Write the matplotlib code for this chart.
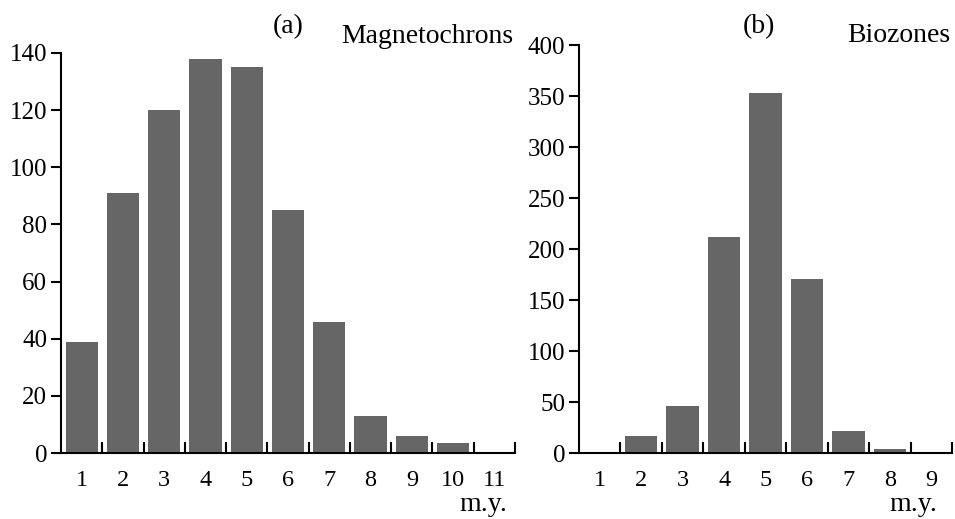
import numpy as np
import matplotlib
matplotlib.use("Agg")
import matplotlib.pyplot as plt

plt.rcParams['font.family'] = ['Liberation Serif', 'DejaVu Serif']
plt.rcParams['font.size'] = 18

# ---- Data: number of intervals per duration class (m.y.) ----
magneto_bins = [1, 2, 3, 4, 5, 6, 7, 8, 9, 10, 11]
magneto_counts = [39, 91, 120, 138, 135, 85, 46, 13, 6, 3.5, 0]

bio_bins = [1, 2, 3, 4, 5, 6, 7, 8, 9]
bio_counts = [0, 17, 46, 212, 353, 171, 22, 4, 0]

bar_color = '#666666'
label_size = 20


def panel(ax, bins, counts, ymax, ystep):
    ax.bar(bins, counts, width=0.78, color=bar_color, zorder=2)
    ax.set_xlim(0.5, len(bins) + 0.5)
    ax.set_ylim(0, ymax)
    ax.set_yticks(np.arange(0, ymax + 1, ystep))
    # bin edges carry the tick marks, bin centres carry the labels
    ax.set_xticks(np.arange(1.5, len(bins) + 0.6, 1.0))
    ax.set_xticklabels([])
    ax.set_xticks(bins, minor=True)
    ax.set_xticklabels([str(b) for b in bins], minor=True, fontsize=17.5)
    ax.tick_params(axis='x', which='major', direction='in', length=8, width=1.5)
    ax.tick_params(axis='x', which='minor', length=0, pad=12)
    ax.tick_params(axis='y', direction='out', length=7, width=1.5, pad=3)
    for s in ('top', 'right'):
        ax.spines[s].set_visible(False)
    for s in ('left', 'bottom'):
        ax.spines[s].set_linewidth(1.5)
    ax.spines['bottom'].set_zorder(3)


fig = plt.figure(figsize=(9.55, 5.19), dpi=100)

ax_a = fig.add_axes([0.0639, 0.127, 0.4754, 0.771])
panel(ax_a, magneto_bins, magneto_counts, 140, 20)
fig.text(0.3016, 0.936, '(a)', ha='center', va='baseline', fontsize=label_size)
fig.text(0.537, 0.917, 'Magnetochrons', ha='right', va='baseline', fontsize=label_size)
fig.text(0.531, 0.016, 'm.y.', ha='right', va='baseline', fontsize=label_size)

ax_b = fig.add_axes([0.6063, 0.127, 0.3906, 0.786])
panel(ax_b, bio_bins, bio_counts, 400, 50)
fig.text(0.795, 0.936, '(b)', ha='center', va='baseline', fontsize=label_size)
fig.text(0.995, 0.919, 'Biozones', ha='right', va='baseline', fontsize=label_size)
fig.text(0.981, 0.016, 'm.y.', ha='right', va='baseline', fontsize=label_size)

fig.savefig('out.png', dpi=100)
